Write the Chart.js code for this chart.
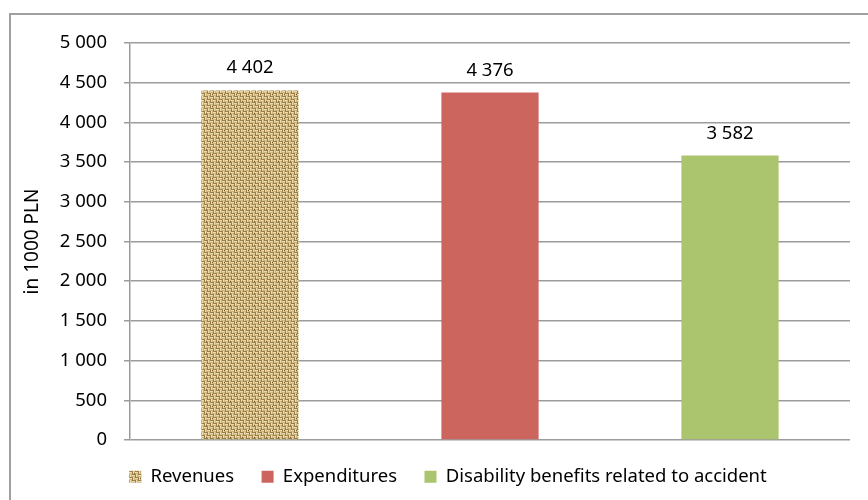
<!DOCTYPE html>
<html>
<head>
<meta charset="utf-8">
<script src="https://cdn.jsdelivr.net/npm/chart.js@4.4.1/dist/chart.umd.min.js"></script>
<style>
  html, body { margin: 0; padding: 0; background: #fff; }
  #wrap { width: 868px; height: 500px; }
</style>
</head>
<body>
<div id="wrap"><canvas id="chart" width="868" height="500"></canvas></div>
<script>
const categories = ['Revenues', 'Expenditures', 'Disability benefits related to accident'];
const values = [4402, 4376, 3582];
const yMin = 0;
const yMax = 5000;
const yStep = 500;

// small woven tile for the "Revenues" bar (burlap look)
function burlap() {
  const c = document.createElement('canvas');
  c.width = 12; c.height = 12;
  const g = c.getContext('2d');
  const shades = ['#9c7f48', '#ecdcad', '#cfb57e'];
  for (let y = 0; y < 12; y++) {
    for (let x = 0; x < 12; x++) {
      const horiz = (Math.floor(x / 3) + Math.floor(y / 3)) % 2 === 0;
      const t = horiz ? y % 3 : x % 3;
      g.fillStyle = shades[t];
      g.fillRect(x, y, 1, 1);
    }
  }
  // a few darker knots
  g.fillStyle = '#6f5426';
  g.fillRect(2, 5, 1, 1);
  g.fillRect(8, 10, 1, 1);
  return g.createPattern(c, 'repeat');
}

const fills = [burlap(), '#cd655f', '#abc46e'];

function fmt(v) {
  if (v < 1000) return String(v);
  return Math.floor(v / 1000) + ' ' + String(v % 1000).padStart(3, '0');
}

const datasets = categories.map((name, i) => ({
  label: name,
  data: categories.map((_, j) => (j === i ? values[i] : null)),
  backgroundColor: fills[i],
  borderWidth: 0
}));

const frame = {
  id: 'frame',
  beforeDraw(chart) {
    const ctx = chart.ctx;
    ctx.save();
    ctx.strokeStyle = '#a0a0a0';
    ctx.lineWidth = 2;
    ctx.beginPath();
    ctx.moveTo(10, 500);
    ctx.lineTo(10, 14);
    ctx.lineTo(868, 14);
    ctx.stroke();
    ctx.restore();
  }
};

const valueLabels = {
  id: 'valueLabels',
  afterDatasetsDraw(chart) {
    const ctx = chart.ctx;
    ctx.save();
    ctx.font = '18.5px "Noto Sans"';
    ctx.fillStyle = '#000';
    ctx.textAlign = 'center';
    ctx.textBaseline = 'alphabetic';
    chart.data.datasets.forEach((ds, i) => {
      chart.getDatasetMeta(i).data.forEach((el, j) => {
        if (ds.data[j] == null) return;
        ctx.fillText(fmt(ds.data[j]), el.x, el.y - 17);
      });
    });
    ctx.restore();
  }
};

new Chart(document.getElementById('chart'), {
  type: 'bar',
  data: { labels: categories, datasets: datasets },
  options: {
    responsive: false,
    animation: false,
    skipNull: true,
    datasets: { bar: { categoryPercentage: 1, barPercentage: 0.405 } },
    layout: { padding: { left: 46, right: 18, top: 43, bottom: 4 } },
    plugins: {
      tooltip: { enabled: false },
      legend: {
        position: 'bottom',
        labels: {
          boxWidth: 12,
          boxHeight: 12,
          padding: 27.5,
          color: '#000',
          font: { family: 'Noto Sans', size: 18.5 }
        }
      }
    },
    scales: {
      x: { display: false },
      y: {
        min: yMin,
        max: yMax,
        afterFit(scale) { scale.width = 84; },
        ticks: {
          stepSize: yStep,
          padding: 17,
          color: '#000',
          font: { family: 'Noto Sans', size: 18.5 },
          callback: v => fmt(v)
        },
        grid: { color: '#9c9c9c', lineWidth: 1.5, tickLength: 6, drawTicks: true },
        border: { color: '#9c9c9c', width: 1.5 },
        title: {
          display: true,
          text: 'in 1000 PLN',
          color: '#000',
          font: { family: 'Noto Sans', size: 19 },
          padding: { top: -25, bottom: 0 }
        }
      }
    }
  },
  plugins: [frame, valueLabels]
});
</script>
</body>
</html>
